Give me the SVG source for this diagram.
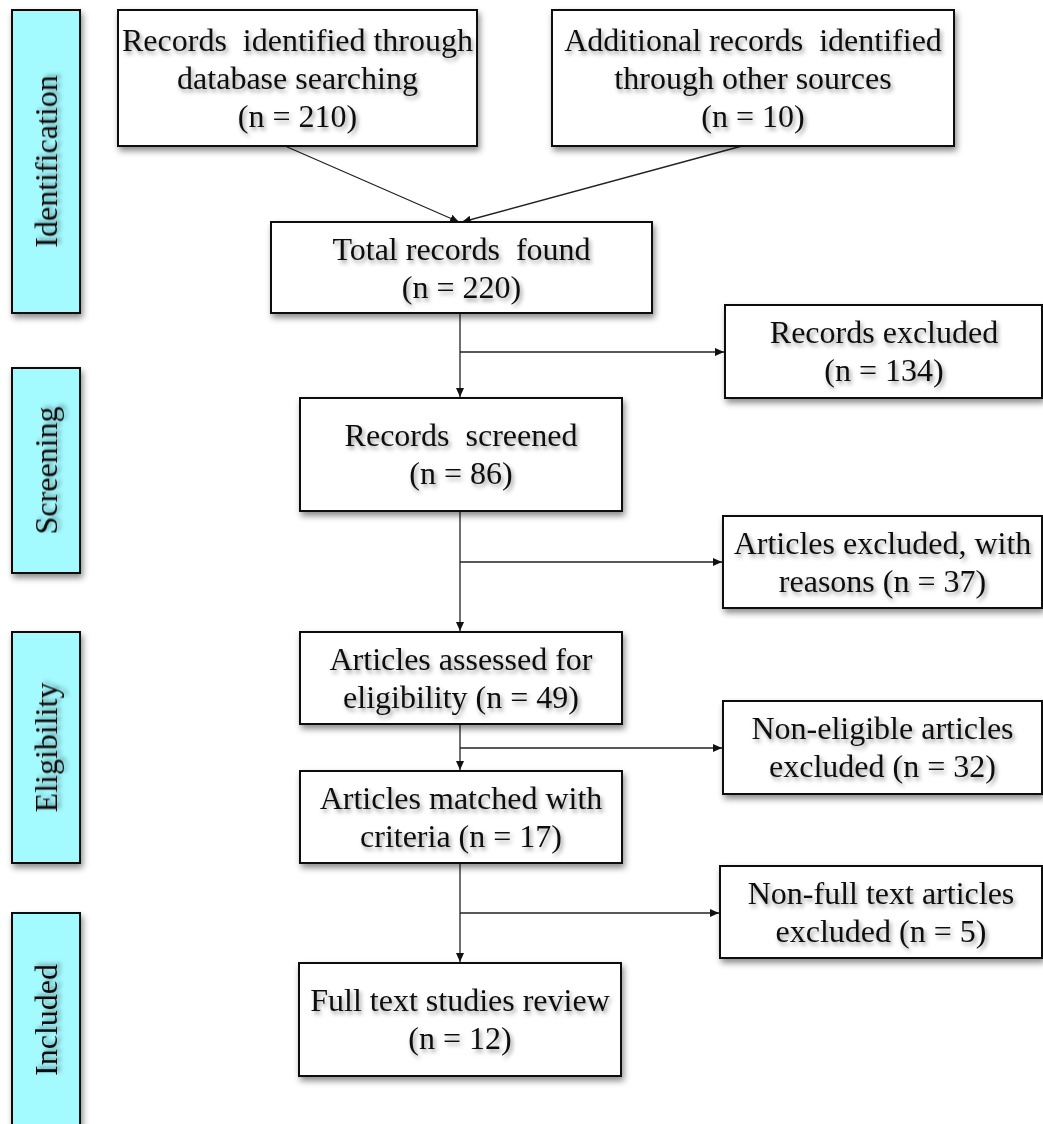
<svg xmlns="http://www.w3.org/2000/svg" width="1043" height="1124" viewBox="0 0 1043 1124">
<defs>
<filter id="sh" x="-10%" y="-10%" width="130%" height="130%">
<feDropShadow dx="2" dy="4" stdDeviation="3" flood-color="#000" flood-opacity="0.45"/>
</filter>
<filter id="tsh" x="-10%" y="-30%" width="130%" height="180%">
<feDropShadow dx="2" dy="3" stdDeviation="2.2" flood-color="#000" flood-opacity="0.4"/>
</filter>
<marker id="arr" markerUnits="userSpaceOnUse" markerWidth="10" markerHeight="8" refX="9" refY="4" orient="auto">
<path d="M0,0 L9,4 L0,8 z" fill="#111"/>
</marker>
</defs>
<style>
.box{fill:#fff;stroke:#111;stroke-width:2;filter:url(#sh)}
.side{fill:#a3faff;stroke:#111;stroke-width:2;filter:url(#sh)}
text{font-family:"Liberation Serif","Times New Roman",serif;font-size:32px;fill:#111;text-anchor:middle;white-space:pre;filter:url(#tsh)}
.con{fill:none;stroke:#222;stroke-width:1.3;marker-end:url(#arr)}
.con2{fill:none;stroke:#222;stroke-width:1.3}
</style>
<rect width="1043" height="1124" fill="#fff"/>

<g id="side-identification">
<rect class="side" x="12" y="10" width="68" height="303"/>
<text transform="translate(57,161.5) rotate(-90)">Identification</text>
</g>
<g id="side-screening">
<rect class="side" x="12" y="368" width="68" height="205"/>
<text transform="translate(57,470.5) rotate(-90)">Screening</text>
</g>
<g id="side-eligibility">
<rect class="side" x="12" y="632" width="68" height="231"/>
<text transform="translate(57,747.5) rotate(-90)">Eligibility</text>
</g>
<g id="side-included">
<rect class="side" x="12" y="913" width="68" height="220"/>
<text transform="translate(57,1020) rotate(-90)">Included</text>
</g>

<g id="connectors">
<line class="con" x1="285" y1="146" x2="459" y2="222"/>
<line class="con" x1="742" y1="146" x2="462" y2="222"/>
<line class="con" x1="460" y1="313" x2="460" y2="397"/>
<line class="con" x1="460" y1="352" x2="724" y2="352"/>
<line class="con" x1="460" y1="511" x2="460" y2="631"/>
<line class="con" x1="460" y1="562" x2="722" y2="562"/>
<line class="con" x1="460" y1="724" x2="460" y2="770"/>
<line class="con" x1="460" y1="748" x2="722" y2="748"/>
<line class="con" x1="460" y1="863" x2="460" y2="962"/>
<line class="con" x1="460" y1="913" x2="719" y2="913"/>
</g>

<g id="n-db">
<rect class="box" x="118" y="10" width="359" height="136"/>
<text x="297.5" y="51">Records  identified through</text>
<text x="297.5" y="89">database searching</text>
<text x="297.5" y="127">(n = 210)</text>
</g>
<g id="n-other">
<rect class="box" x="552" y="10" width="402" height="136"/>
<text x="753" y="51">Additional records  identified</text>
<text x="753" y="89">through other sources</text>
<text x="753" y="127">(n = 10)</text>
</g>
<g id="n-total">
<rect class="box" x="271" y="222" width="381" height="91"/>
<text x="461.5" y="260">Total records  found</text>
<text x="461.5" y="298">(n = 220)</text>
</g>
<g id="n-excl1">
<rect class="box" x="725" y="305" width="317" height="93"/>
<text x="884" y="343">Records excluded</text>
<text x="884" y="381">(n = 134)</text>
</g>
<g id="n-screened">
<rect class="box" x="300" y="398" width="322" height="113"/>
<text x="461" y="446">Records  screened</text>
<text x="461" y="484">(n = 86)</text>
</g>
<g id="n-excl2">
<rect class="box" x="723" y="516" width="319" height="92"/>
<text x="882.5" y="554">Articles excluded, with</text>
<text x="882.5" y="592">reasons (n = 37)</text>
</g>
<g id="n-assessed">
<rect class="box" x="300" y="632" width="322" height="92"/>
<text x="461" y="670">Articles assessed for</text>
<text x="461" y="708">eligibility (n = 49)</text>
</g>
<g id="n-excl3">
<rect class="box" x="723" y="701" width="319" height="93"/>
<text x="882.5" y="739">Non-eligible articles</text>
<text x="882.5" y="777">excluded (n = 32)</text>
</g>
<g id="n-matched">
<rect class="box" x="300" y="771" width="322" height="92"/>
<text x="461" y="809">Articles matched with</text>
<text x="461" y="847">criteria (n = 17)</text>
</g>
<g id="n-excl4">
<rect class="box" x="720" y="866" width="322" height="92"/>
<text x="881" y="904">Non-full text articles</text>
<text x="881" y="942">excluded (n = 5)</text>
</g>
<g id="n-full">
<rect class="box" x="299" y="963" width="322" height="113"/>
<text x="460" y="1011">Full text studies review</text>
<text x="460" y="1049">(n = 12)</text>
</g>
</svg>
